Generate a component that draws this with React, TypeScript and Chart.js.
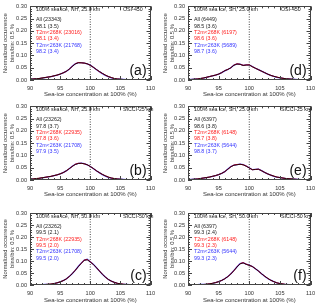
import React, { useEffect, useRef } from "react";
import { Chart, registerables } from "chart.js";
Chart.register(...registerables);

const FONT = "'Liberation Sans', Arial, Helvetica, sans-serif";

const binCenters = [
  90, 90.5, 91, 91.5, 92, 92.5, 93, 93.5, 94, 94.5,
  95, 95.5, 96, 96.5, 97, 97.5, 98, 98.5, 99, 99.5,
  100, 100.5, 101, 101.5, 102, 102.5, 103, 103.5, 104, 104.5,
  105, 105.5, 106, 106.5, 107, 107.5, 108, 108.5, 109, 109.5,
  110,
];
const xTickValues = [90, 95, 100, 105, 110];
const yTickValues = [0, 0.05, 0.1, 0.15, 0.2, 0.25, 0.3];
const xTitle = "Sea-ice concentration at 100% (%)";
const yTitle = ["Normalized occurrence", "bins/bin: 0.5 %"];
const refLine = 100;

// (a) NH OSI-450
const aAll = [
  0.003, 0.004, 0.005, 0.006, 0.008, 0.010, 0.012, 0.014, 0.017, 0.020,
  0.024, 0.029, 0.035, 0.044, 0.055, 0.065, 0.070, 0.070, 0.069, 0.066,
  0.060, 0.052, 0.043, 0.035, 0.027, 0.020, 0.014, 0.010, 0.006, 0.004,
  0.003, 0.002, 0.001, 0.001, 0, 0, 0, 0, 0, 0, 0,
];
const aT268 = [
  0.003, 0.004, 0.005, 0.006, 0.008, 0.010, 0.012, 0.014, 0.017, 0.020,
  0.024, 0.029, 0.035, 0.044, 0.055, 0.066, 0.071, 0.070, 0.069, 0.066,
  0.060, 0.052, 0.043, 0.034, 0.027, 0.020, 0.014, 0.010, 0.006, 0.004,
  0.003, 0.002, 0.001, 0.001, 0, 0, 0, 0, 0, 0, 0,
];
const aT263 = [
  0.003, 0.004, 0.005, 0.006, 0.008, 0.010, 0.012, 0.014, 0.017, 0.020,
  0.024, 0.029, 0.035, 0.044, 0.056, 0.066, 0.071, 0.071, 0.069, 0.066,
  0.061, 0.052, 0.043, 0.034, 0.026, 0.019, 0.014, 0.009, 0.006, 0.004,
  0.003, 0.002, 0.001, 0.001, 0, 0, 0, 0, 0, 0, 0,
];
const aHeader = ["100% sea ice, NH, 25.0 km", "OSI-450"];
const aStats = ["All (23343)", "98.1 (3.5)", "T2m<268K (23016)", "98.1 (3.4)", "T2m<263K (21768)", "98.2 (3.4)"];

// (b) NH SICCI-25
const bAll = [
  0.003, 0.004, 0.006, 0.007, 0.009, 0.011, 0.013, 0.015, 0.018, 0.021,
  0.025, 0.030, 0.037, 0.046, 0.055, 0.063, 0.067, 0.068, 0.066, 0.062,
  0.055, 0.047, 0.038, 0.030, 0.023, 0.017, 0.012, 0.008, 0.006, 0.004,
  0.003, 0.002, 0.001, 0.001, 0.001, 0, 0, 0, 0, 0, 0,
];
const bT268 = [
  0.003, 0.004, 0.006, 0.007, 0.009, 0.011, 0.013, 0.015, 0.018, 0.021,
  0.025, 0.030, 0.037, 0.046, 0.055, 0.064, 0.068, 0.068, 0.066, 0.062,
  0.055, 0.047, 0.038, 0.030, 0.023, 0.017, 0.012, 0.008, 0.006, 0.004,
  0.003, 0.002, 0.001, 0.001, 0.001, 0, 0, 0, 0, 0, 0,
];
const bT263 = [
  0.003, 0.004, 0.006, 0.007, 0.009, 0.011, 0.013, 0.015, 0.018, 0.021,
  0.025, 0.030, 0.037, 0.046, 0.056, 0.064, 0.068, 0.069, 0.067, 0.062,
  0.055, 0.047, 0.038, 0.030, 0.022, 0.016, 0.011, 0.008, 0.005, 0.004,
  0.003, 0.002, 0.001, 0.001, 0.001, 0, 0, 0, 0, 0, 0,
];
const bHeader = ["100% sea ice, NH, 25.0 km", "SICCI-25 km"];
const bStats = ["All (23262)", "97.8 (3.7)", "T2m<268K (22935)", "97.8 (3.6)", "T2m<263K (21708)", "97.9 (3.5)"];

// (c) NH SICCI-50
const cAll = [
  0, 0, 0.001, 0.001, 0.001, 0.002, 0.003, 0.004, 0.006, 0.009,
  0.013, 0.018, 0.025, 0.035, 0.047, 0.061, 0.076, 0.090, 0.103, 0.105,
  0.096, 0.086, 0.073, 0.059, 0.045, 0.033, 0.023, 0.016, 0.011, 0.007,
  0.005, 0.003, 0.002, 0.001, 0.001, 0, 0, 0, 0, 0, 0,
];
const cT268 = [
  0, 0, 0.001, 0.001, 0.001, 0.002, 0.003, 0.004, 0.006, 0.009,
  0.013, 0.018, 0.025, 0.035, 0.047, 0.061, 0.076, 0.090, 0.104, 0.106,
  0.097, 0.086, 0.073, 0.059, 0.045, 0.033, 0.023, 0.016, 0.011, 0.007,
  0.005, 0.003, 0.002, 0.001, 0.001, 0, 0, 0, 0, 0, 0,
];
const cT263 = [
  0, 0, 0.001, 0.001, 0.001, 0.002, 0.003, 0.004, 0.006, 0.009,
  0.013, 0.018, 0.025, 0.035, 0.047, 0.061, 0.077, 0.091, 0.104, 0.107,
  0.097, 0.087, 0.073, 0.059, 0.045, 0.033, 0.023, 0.016, 0.011, 0.007,
  0.005, 0.003, 0.002, 0.001, 0.001, 0, 0, 0, 0, 0, 0,
];
const cHeader = ["100% sea ice, NH, 50.0 km", "SICCI-50 km"];
const cStats = ["All (23262)", "99.5 (2.1)", "T2m<268K (22935)", "99.5 (2.0)", "T2m<263K (21708)", "99.5 (2.0)"];

// (d) SH OSI-450
const dAll = [
  0.001, 0.002, 0.003, 0.004, 0.006, 0.008, 0.011, 0.014, 0.017, 0.020,
  0.024, 0.030, 0.038, 0.043, 0.050, 0.060, 0.065, 0.064, 0.059, 0.061,
  0.061, 0.054, 0.048, 0.042, 0.036, 0.030, 0.024, 0.019, 0.015, 0.012,
  0.009, 0.007, 0.005, 0.004, 0.003, 0.002, 0.001, 0.001, 0, 0, 0,
];
const dT268 = [
  0.001, 0.002, 0.003, 0.004, 0.006, 0.008, 0.011, 0.014, 0.017, 0.020,
  0.024, 0.030, 0.038, 0.043, 0.050, 0.061, 0.066, 0.064, 0.060, 0.061,
  0.062, 0.054, 0.048, 0.042, 0.036, 0.030, 0.024, 0.019, 0.015, 0.012,
  0.009, 0.007, 0.005, 0.004, 0.003, 0.002, 0.001, 0.001, 0, 0, 0,
];
const dT263 = [
  0.001, 0.002, 0.003, 0.004, 0.006, 0.008, 0.011, 0.014, 0.017, 0.020,
  0.024, 0.030, 0.037, 0.043, 0.050, 0.061, 0.066, 0.065, 0.060, 0.062,
  0.062, 0.055, 0.048, 0.042, 0.036, 0.030, 0.024, 0.019, 0.015, 0.011,
  0.009, 0.007, 0.005, 0.004, 0.003, 0.002, 0.001, 0.001, 0, 0, 0,
];
const dHeader = ["100% sea ice, SH, 25.0 km", "OSI-450"];
const dStats = ["All (6449)", "98.5 (3.6)", "T2m<268K (6197)", "98.6 (3.6)", "T2m<263K (5689)", "98.7 (3.6)"];

// (e) SH SICCI-25
const eAll = [
  0.001, 0.002, 0.003, 0.004, 0.006, 0.008, 0.010, 0.012, 0.015, 0.018,
  0.022, 0.027, 0.034, 0.044, 0.054, 0.060, 0.062, 0.064, 0.062, 0.056,
  0.049, 0.042, 0.043, 0.044, 0.038, 0.031, 0.025, 0.020, 0.016, 0.012,
  0.010, 0.008, 0.006, 0.005, 0.004, 0.003, 0.002, 0.001, 0.001, 0, 0,
];
const eT268 = [
  0.001, 0.002, 0.003, 0.004, 0.006, 0.008, 0.010, 0.012, 0.015, 0.018,
  0.022, 0.027, 0.034, 0.044, 0.054, 0.061, 0.063, 0.064, 0.062, 0.057,
  0.049, 0.042, 0.043, 0.044, 0.038, 0.031, 0.025, 0.020, 0.016, 0.012,
  0.010, 0.008, 0.006, 0.005, 0.004, 0.003, 0.002, 0.001, 0.001, 0, 0,
];
const eT263 = [
  0.001, 0.002, 0.003, 0.004, 0.006, 0.008, 0.010, 0.012, 0.015, 0.018,
  0.022, 0.027, 0.034, 0.045, 0.055, 0.061, 0.063, 0.065, 0.063, 0.057,
  0.050, 0.042, 0.043, 0.044, 0.038, 0.031, 0.025, 0.020, 0.015, 0.012,
  0.010, 0.008, 0.006, 0.005, 0.004, 0.003, 0.002, 0.001, 0.001, 0, 0,
];
const eHeader = ["100% sea ice, SH, 25.0 km", "SICCI-25 km"];
const eStats = ["All (6397)", "98.6 (3.8)", "T2m<268K (6148)", "98.7 (3.8)", "T2m<263K (5644)", "98.8 (3.7)"];

// (f) SH SICCI-50
const fAll = [
  0, 0, 0.001, 0.001, 0.002, 0.002, 0.003, 0.005, 0.007, 0.010,
  0.014, 0.019, 0.026, 0.035, 0.046, 0.060, 0.075, 0.088, 0.092, 0.086,
  0.082, 0.077, 0.068, 0.058, 0.047, 0.037, 0.028, 0.020, 0.014, 0.009,
  0.006, 0.004, 0.002, 0.001, 0.001, 0, 0, 0, 0, 0, 0,
];
const fT268 = [
  0, 0, 0.001, 0.001, 0.002, 0.002, 0.003, 0.005, 0.007, 0.010,
  0.014, 0.019, 0.026, 0.035, 0.046, 0.060, 0.076, 0.089, 0.093, 0.087,
  0.082, 0.077, 0.068, 0.058, 0.047, 0.037, 0.028, 0.020, 0.014, 0.009,
  0.006, 0.004, 0.002, 0.001, 0.001, 0, 0, 0, 0, 0, 0,
];
const fT263 = [
  0, 0, 0.001, 0.001, 0.002, 0.002, 0.003, 0.005, 0.007, 0.010,
  0.014, 0.019, 0.026, 0.035, 0.047, 0.061, 0.076, 0.089, 0.093, 0.087,
  0.083, 0.077, 0.068, 0.058, 0.047, 0.036, 0.027, 0.020, 0.014, 0.009,
  0.006, 0.004, 0.002, 0.001, 0.001, 0, 0, 0, 0, 0, 0,
];
const fHeader = ["100% sea ice, SH, 50.0 km", "SICCI-50 km"];
const fStats = ["All (6397)", "99.3 (2.4)", "T2m<268K (6148)", "99.3 (2.3)", "T2m<263K (5644)", "99.3 (2.3)"];

const statColors = ["#222222", "#222222", "#ff2020", "#ff2020", "#3535ff", "#3535ff"];
const lineColors = ["#000000", "#ff0000", "#4a4aff"];
const lineWidths = [0.8, 0.9, 1.3];

type Layout = { left: number; top: number; width: number; height: number; padTop: number; padRight: number; yWidth: number; xHeight: number; titlePad: number };

const framePlugin = {
  id: "frame",
  afterDatasetsDraw(chart: any) {
    const ctx = chart.ctx;
    const { left, right, top, bottom } = chart.chartArea;
    const xs = chart.scales.x;
    const ys = chart.scales.y;
    const cfg = chart.options.plugins.frame;
    ctx.save();
    ctx.strokeStyle = "#444";
    ctx.lineWidth = 1;
    ctx.strokeRect(Math.round(left) + 0.5, Math.round(top) + 0.5, Math.round(right - left) - 1, Math.round(bottom - top) - 1);
    ctx.beginPath();
    for (let v = 90; v <= 110; v += 1) {
      const px = Math.round(xs.getPixelForValue(v)) + 0.5;
      const len = v % 5 === 0 ? 4 : 2;
      ctx.moveTo(px, bottom);
      ctx.lineTo(px, bottom - len);
      ctx.moveTo(px, top);
      ctx.lineTo(px, top + len);
    }
    for (let i = 0; i <= 30; i++) {
      const py = Math.round(ys.getPixelForValue(i / 100)) + 0.5;
      const len = i % 5 === 0 ? 4 : 2;
      ctx.moveTo(left, py);
      ctx.lineTo(left + len, py);
      ctx.moveTo(right, py);
      ctx.lineTo(right - len, py);
    }
    ctx.stroke();
    // annotations
    ctx.textBaseline = "middle";
    ctx.textAlign = "left";
    ctx.font = `5.3px ${FONT}`;
    ctx.fillStyle = "#222";
    ctx.fillText(cfg.header[0], left + 6, top + 3.5);
    ctx.fillText(cfg.header[1], left + 93, top + 3.5);
    cfg.stats.forEach((s: string, i: number) => {
      ctx.fillStyle = statColors[i];
      ctx.fillText(s, left + 6, top + 13.3 + i * 6.4);
    });
    ctx.font = `14px ${FONT}`;
    ctx.fillStyle = "#111";
    ctx.textAlign = "right";
    ctx.fillText(cfg.label, right - 4, bottom - 8.5);
    ctx.restore();
  },
};

function Panel(props: { layout: Layout; all: number[]; t268: number[]; t263: number[]; header: string[]; stats: string[]; label: string }) {
  const ref = useRef<HTMLCanvasElement>(null);
  const { layout } = props;
  useEffect(() => {
    const toXY = (arr: number[]) => binCenters.map((x, i) => ({ x, y: arr[i] }));
    const series = [props.all, props.t268, props.t263];
    const chart = new Chart(ref.current as HTMLCanvasElement, {
      type: "line",
      data: {
        datasets: [
          ...series.map((s, i) => ({
            data: toXY(s),
            borderColor: lineColors[i],
            borderWidth: lineWidths[i],
            pointRadius: 0,
            tension: 0,
            fill: false,
          })),
          {
            data: [{ x: refLine, y: 0 }, { x: refLine, y: 0.3 }],
            borderColor: "#444",
            borderWidth: 1,
            borderDash: [1, 1.5],
            pointRadius: 0,
            fill: false,
          },
        ],
      },
      options: {
        animation: false,
        responsive: false,
        maintainAspectRatio: false,
        layout: { padding: { top: layout.padTop, right: layout.padRight, left: 0, bottom: 0 } },
        plugins: {
          legend: { display: false },
          tooltip: { enabled: false },
          frame: { header: props.header, stats: props.stats, label: props.label },
        } as any,
        scales: {
          x: {
            type: "linear",
            min: 90,
            max: 110,
            afterBuildTicks: (s: any) => {
              s.ticks = xTickValues.map((v) => ({ value: v }));
            },
            afterFit: (s: any) => {
              s.height = layout.xHeight;
            },
            grid: { display: false, drawTicks: false },
            border: { display: false },
            ticks: { font: { size: 5.6, family: FONT }, color: "#333", padding: 5, maxRotation: 0, autoSkip: false },
            title: { display: true, text: xTitle, font: { size: 6, family: FONT }, color: "#333", padding: { top: 0, bottom: layout.titlePad } },
          },
          y: {
            type: "linear",
            min: 0,
            max: 0.3,
            afterBuildTicks: (s: any) => {
              s.ticks = yTickValues.map((v) => ({ value: v }));
            },
            afterFit: (s: any) => {
              s.width = layout.yWidth;
            },
            grid: { display: false, drawTicks: false },
            border: { display: false },
            ticks: { font: { size: 5.6, family: FONT }, color: "#333", padding: 3, callback: (v: any) => Number(v).toFixed(2) },
            title: { display: true, text: yTitle, font: { size: 5.8, family: FONT, lineHeight: 1.15 }, color: "#333", padding: { top: 2.5, bottom: 0 } },
          },
        },
      },
      plugins: [framePlugin],
    } as any);
    return () => chart.destroy();
  }, []);
  return (
    <canvas
      ref={ref}
      width={layout.width}
      height={layout.height}
      style={{ position: "absolute", left: layout.left, top: layout.top, width: layout.width, height: layout.height }}
    />
  );
}

const leftCol = { left: 0, width: 160, padRight: 7, yWidth: 30 };
const rightCol = { left: 160, width: 160, padRight: 6, yWidth: 28 };
const row1 = { top: 0, height: 100, padTop: 4, xHeight: 20, titlePad: 2 };
const row2 = { top: 100, height: 100, padTop: 5, xHeight: 20, titlePad: 2 };
const row3 = { top: 200, height: 107, padTop: 13, xHeight: 22, titlePad: 3 };

export default function App() {
  return (
    <div style={{ position: "absolute", left: 0, top: 0, width: 320, height: 307, background: "#fff", overflow: "hidden" }}>
      <Panel layout={{ ...leftCol, ...row1 }} all={aAll} t268={aT268} t263={aT263} header={aHeader} stats={aStats} label="(a)" />
      <Panel layout={{ ...leftCol, ...row2 }} all={bAll} t268={bT268} t263={bT263} header={bHeader} stats={bStats} label="(b)" />
      <Panel layout={{ ...leftCol, ...row3 }} all={cAll} t268={cT268} t263={cT263} header={cHeader} stats={cStats} label="(c)" />
      <Panel layout={{ ...rightCol, ...row1 }} all={dAll} t268={dT268} t263={dT263} header={dHeader} stats={dStats} label="(d)" />
      <Panel layout={{ ...rightCol, ...row2 }} all={eAll} t268={eT268} t263={eT263} header={eHeader} stats={eStats} label="(e)" />
      <Panel layout={{ ...rightCol, ...row3 }} all={fAll} t268={fT268} t263={fT263} header={fHeader} stats={fStats} label="(f)" />
    </div>
  );
}
